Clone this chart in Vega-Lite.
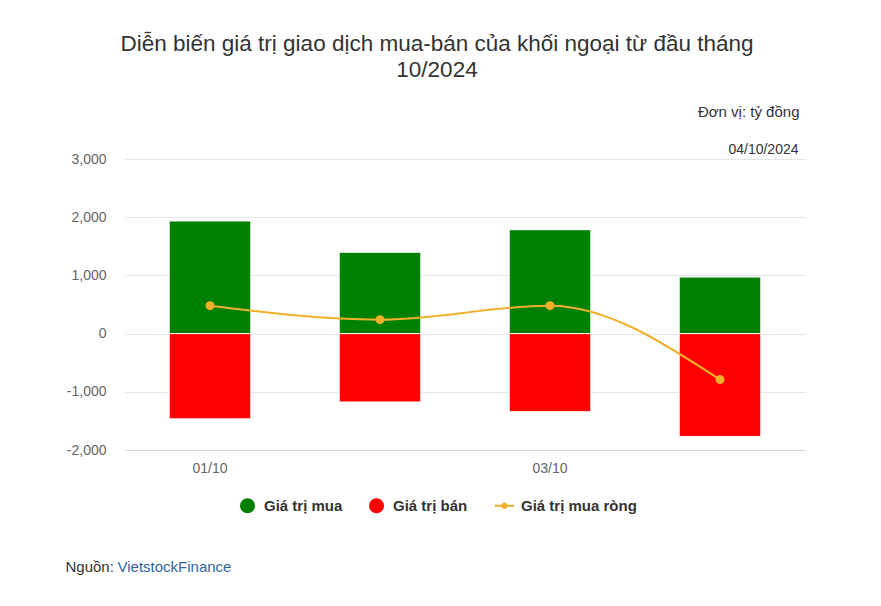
{
  "$schema": "https://vega.github.io/schema/vega-lite/v6.json",
  "width": 680,
  "height": 291,
  "autosize": {"type": "none"},
  "padding": {"left": 125, "top": 159, "right": 76, "bottom": 156},
  "background": "white",
  "config": {
    "font": "Liberation Sans",
    "view": {"stroke": null}
  },
  "title": {
    "text": ["Diễn biến giá trị giao dịch mua-bán của khối ngoại từ đầu tháng", "10/2024"],
    "fontSize": 22.5,
    "fontWeight": "normal",
    "color": "#333333",
    "anchor": "middle",
    "frame": "group",
    "dx": -28,
    "lineHeight": 26,
    "offset": 23
  },
  "data": {
    "values": [
      {"date": "01/10", "series": "Giá trị mua", "value": 1935},
      {"date": "01/10", "series": "Giá trị bán", "value": -1465},
      {"date": "01/10", "series": "Giá trị mua ròng", "value": 480},
      {"date": "02/10", "series": "Giá trị mua", "value": 1398},
      {"date": "02/10", "series": "Giá trị bán", "value": -1175},
      {"date": "02/10", "series": "Giá trị mua ròng", "value": 240},
      {"date": "03/10", "series": "Giá trị mua", "value": 1785},
      {"date": "03/10", "series": "Giá trị bán", "value": -1342},
      {"date": "03/10", "series": "Giá trị mua ròng", "value": 480},
      {"date": "04/10", "series": "Giá trị mua", "value": 972},
      {"date": "04/10", "series": "Giá trị bán", "value": -1767},
      {"date": "04/10", "series": "Giá trị mua ròng", "value": -790}
    ]
  },
  "encoding": {
    "x": {
      "field": "date",
      "type": "nominal",
      "sort": null,
      "scale": {"type": "band", "paddingInner": 0.52, "paddingOuter": 0.26}
    },
    "y": {
      "field": "value",
      "type": "quantitative",
      "scale": {"domain": [-2000, 3000], "nice": false, "zero": false}
    },
    "color": {
      "field": "series",
      "type": "nominal",
      "scale": {
        "domain": ["Giá trị mua", "Giá trị bán", "Giá trị mua ròng"],
        "range": ["#008000", "#ff0000", "#f2b02a"]
      },
      "legend": {
        "orient": "none",
        "legendX": 115,
        "legendY": 339,
        "direction": "horizontal",
        "title": null,
        "padding": 0,
        "labelFontSize": 15,
        "labelFontWeight": "bold",
        "labelColor": "#333333",
        "symbolSize": 225,
        "symbolType": "circle",
        "symbolStrokeWidth": 0,
        "labelOffset": 9,
        "columnPadding": 26,
        "encode": {
          "symbols": {
            "update": {
              "shape": {"signal": "datum.value === 'Giá trị mua ròng' ? 'M -1.3 -0.13 L 1.3 -0.13 L 1.3 0.13 L -1.3 0.13 Z M 0.42 0 A 0.42 0.42 0 1 1 -0.42 0 A 0.42 0.42 0 1 1 0.42 0 Z' : 'circle'"},
              "fill": {"scale": "color", "field": "value"},
              "fillOpacity": {"value": 1},
              "strokeWidth": {"value": 0}
            }
          }
        }
      }
    }
  },
  "layer": [
    {
      "transform": [{"filter": "datum.series !== 'Giá trị mua ròng'"}],
      "mark": {"type": "bar", "stroke": "white", "strokeWidth": 1},
      "encoding": {
        "x": {
          "field": "date",
          "type": "nominal",
          "sort": null,
          "axis": {
            "orient": "bottom",
            "labelExpr": "datum.value === '01/10' || datum.value === '03/10' ? datum.value : ''",
            "labelAngle": 0,
            "labelFontSize": 14,
            "labelColor": "#666666",
            "labelPadding": 11,
            "ticks": false,
            "domain": true,
            "domainColor": "#d6d6d6",
            "grid": false,
            "title": "Nguồn:",
            "titleX": -60,
            "titleY": 116,
            "titleAlign": "left",
            "titleAnchor": null,
            "titleBaseline": "middle",
            "titleFontSize": 15,
            "titleFontWeight": "normal",
            "titleColor": "#333333"
          }
        },
        "y": {
          "field": "value",
          "type": "quantitative",
          "axis": {
            "values": [-2000, -1000, 0, 1000, 2000, 3000],
            "labelExpr": "replace(format(datum.value, ','), '\u2212', '-')",
            "labelFontSize": 14,
            "labelColor": "#666666",
            "labelPadding": 19,
            "ticks": false,
            "domain": false,
            "grid": true,
            "gridColor": "#e6e6e6",
            "title": "Đơn vị: tỷ đồng",
            "titleAngle": 0,
            "titleX": 674,
            "titleY": -48,
            "titleAlign": "right",
            "titleAnchor": null,
            "titleBaseline": "middle",
            "titleFontSize": 15,
            "titleFontWeight": "normal",
            "titleColor": "#333333"
          }
        }
      }
    },
    {
      "transform": [{"filter": "datum.series === 'Giá trị mua ròng'"}],
      "mark": {"type": "line", "interpolate": "monotone", "strokeWidth": 2},
      "encoding": {
        "x": {"field": "date", "type": "nominal", "sort": null, "axis": null},
        "y": {"field": "value", "type": "quantitative", "axis": null}
      }
    },
    {
      "transform": [{"filter": "datum.series === 'Giá trị mua ròng'"}],
      "mark": {"type": "point", "filled": true, "size": 81, "opacity": 1},
      "encoding": {
        "x": {
          "field": "date",
          "type": "nominal",
          "sort": null,
          "axis": {
            "orient": "top",
            "labels": false,
            "ticks": false,
            "domain": false,
            "grid": false,
            "title": "04/10/2024",
            "titleX": 673,
            "titleY": -10,
            "titleAlign": "right",
            "titleAnchor": null,
            "titleBaseline": "middle",
            "titleFontSize": 14,
            "titleFontWeight": "normal",
            "titleColor": "#333333"
          }
        },
        "y": {
          "field": "value",
          "type": "quantitative",
          "axis": {
            "orient": "right",
            "labels": false,
            "ticks": false,
            "domain": false,
            "grid": false,
            "title": "VietstockFinance",
            "titleAngle": 0,
            "titleX": -688,
            "titleY": 407,
            "titleAlign": "left",
            "titleAnchor": null,
            "titleBaseline": "middle",
            "titleFontSize": 15,
            "titleFontWeight": "normal",
            "titleColor": "#336699"
          }
        }
      }
    }
  ],
  "resolve": {"axis": {"x": "independent", "y": "independent"}}
}
